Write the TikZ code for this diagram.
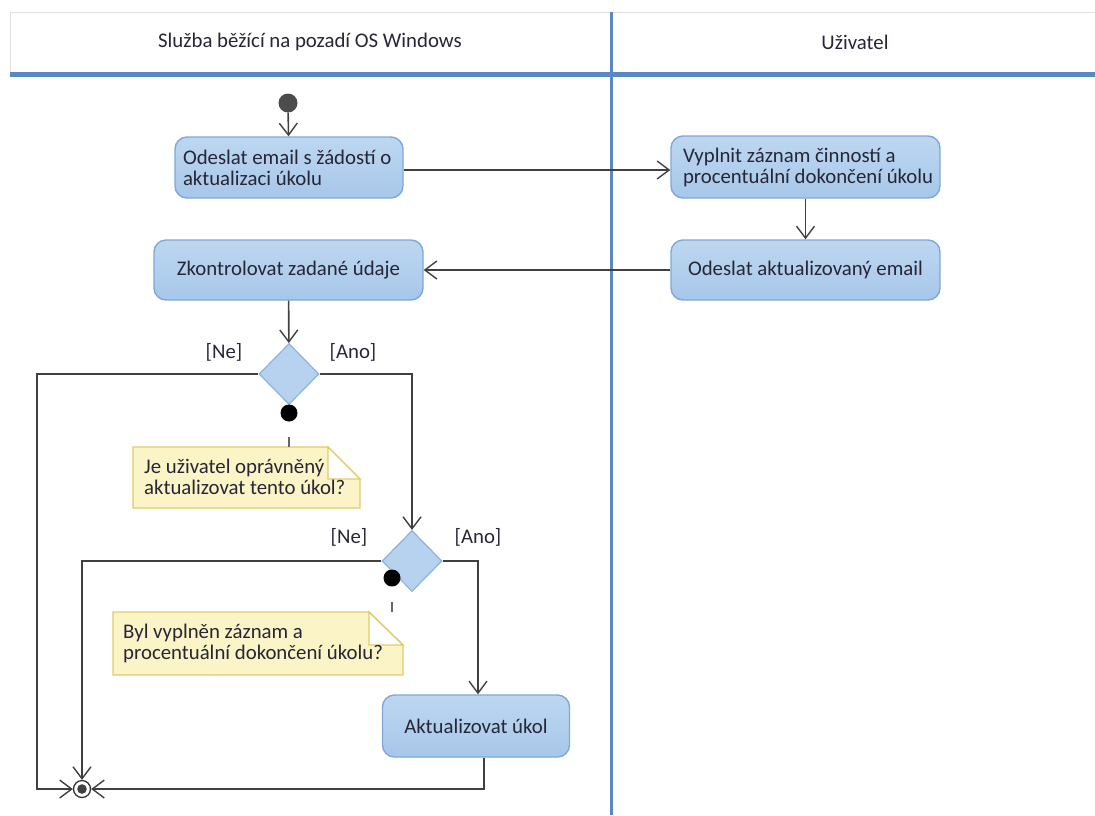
\documentclass[tikz,border=0pt]{standalone}
\usepackage{fontspec}
\setmainfont{Carlito}
\usetikzlibrary{arrows.meta,shapes.geometric,calc}

\definecolor{lane}{HTML}{5A88C4}
\definecolor{boxtop}{HTML}{BDD7F1}
\definecolor{boxbot}{HTML}{A7C7E9}
\definecolor{boxline}{HTML}{7FA8D9}
\definecolor{diafill}{HTML}{B6D2EE}
\definecolor{dialine}{HTML}{8DB2DD}
\definecolor{notefill}{HTML}{FBF4C6}
\definecolor{noteline}{HTML}{E0CC6C}
\definecolor{wire}{HTML}{404040}
\definecolor{ink}{HTML}{262636}

\tikzset{
  x=1pt, y=-1pt,
  every node/.style={font=\fontsize{20.8}{21}\selectfont, text=ink},
  action/.style={draw=boxline, line width=1.4pt, rounded corners=12pt,
    top color=boxtop, bottom color=boxbot, align=center, inner sep=0pt},
  leftaction/.style={action, align=flush left, inner sep=0pt},
  decision/.style={diamond, draw=dialine, line width=1.2pt, fill=diafill,
    minimum width=60pt, minimum height=61pt, inner sep=0pt},
  flow/.style={draw=wire, line width=1.6pt,
    -{Straight Barb[length=12pt,width=18pt,line width=1.4pt]}},
  guard/.style={inner sep=0pt},
  notebox/.style={inner sep=0pt, align=left, anchor=west},
  notepath/.style={draw=noteline, line width=1.4pt, fill=notefill},
  pin/.style={draw=wire!80, line width=1.6pt, dash pattern=on 0pt off 15pt on 10pt off 20pt},
  dot/.style={circle, fill=black, minimum size=17pt, inner sep=0pt}
}

\begin{document}
\begin{tikzpicture}
\useasboundingbox (0,0) rectangle (1095,815);

% swimlane headers
\fill[white] (10,12) rectangle (1095,73);
\draw[gray!25, line width=1pt] (10,73) -- (10,12) -- (1095,12);
\fill[lane] (10,72) rectangle (1095,76.5);
\fill[lane] (609.5,12) rectangle (612.5,815);
\node (laneA) at (310,42) {Služba běžící na pozadí OS Windows};
\node (laneB) at (855,42) {Uživatel};

% start node
\node[circle, fill=black!70, minimum size=19pt, inner sep=0pt] (start) at (288,103) {};

% actions
\node[leftaction, text width=228pt, minimum height=61pt] (send) at (289,167.5)
  {\hspace*{8pt}Odeslat email s žádostí o\\\hspace*{8pt}aktualizaci úkolu};
\node[leftaction, text width=269pt, minimum height=62pt] (fill) at (805.5,167)
  {\hspace*{12pt}Vyplnit záznam činností a\\\hspace*{12pt}procentuální dokončení úkolu};
\node[action, minimum width=269pt, minimum height=60pt] (reply) at (805.5,270)
  {Odeslat aktualizovaný email};
\node[action, minimum width=269pt, minimum height=60pt] (check) at (288.5,270)
  {Zkontrolovat zadané údaje};
\node[action, minimum width=187pt, minimum height=62pt] (update) at (476,726)
  {Aktualizovat úkol};

% decisions
\node[decision] (d1) at (289,374) {};
\node[decision] (d2) at (412,561) {};

% final node
\node[circle, draw=black!80, line width=1.3pt, fill=white, minimum size=17pt, inner sep=0pt] (final) at (82,789) {};
\fill[black!75] (final.center) circle (4.8pt);

% guards
\node[guard] (ne1) at (224,352) {[Ne]};
\node[guard] (ano1) at (353,352) {[Ano]};
\node[guard] (ne2) at (349,537) {[Ne]};
\node[guard] (ano2) at (478,537) {[Ano]};

% routing corners
\coordinate (c1) at (37,374);
\coordinate (c2) at (412,374);
\coordinate (c3) at (82,561);
\coordinate (c4) at (478,561);
\coordinate (c5) at (484,789);

% flows
\draw[flow] (start) -- (send);
\draw[flow] (send.east |- 0,170) -- (fill.west |- 0,170);
\draw[flow] (fill) -- (reply);
\draw[flow] (reply) -- (check);
\draw[flow] (check) -- (d1);
\draw[flow] (d1.west) -- (c1) |- (final.west);
\draw[flow] (d1.east) -- (c2) -- (d2.north);
\draw[flow] (d2.west) -- (c3) -- (final.north);
\draw[flow] (d2.east) -- (c4) -- (c4 |- update.north);
\draw[flow] (c5 |- update.south) -- (c5) -- (final.east);

% condition notes
\node[dot] (dot1) at (289,413) {};
\node[dot] (dot2) at (392,578) {};

\path[notepath] (133,447) -- (328,447) -- (360,479) -- (360,508) -- (133,508) -- cycle;
\path[draw=noteline, line width=1.4pt, fill=white] (328,447) -- (328,479) -- (360,479) -- cycle;
\node[notebox] (note1) at (144,477) {Je uživatel oprávněný\\aktualizovat tento úkol?};

\path[notepath] (113,612) -- (369,612) -- (403,645) -- (403,675) -- (113,675) -- cycle;
\path[draw=noteline, line width=1.4pt, fill=white] (369,612) -- (369,645) -- (403,645) -- cycle;
\node[notebox] (note2) at (123,643) {Byl vyplněn záznam a\\procentuální dokončení úkolu?};

\draw[pin] (dot1.south) -- (dot1.south |- 0,447);
\draw[pin] (dot2.south) -- (dot2.south |- 0,612);

\end{tikzpicture}
\end{document}
